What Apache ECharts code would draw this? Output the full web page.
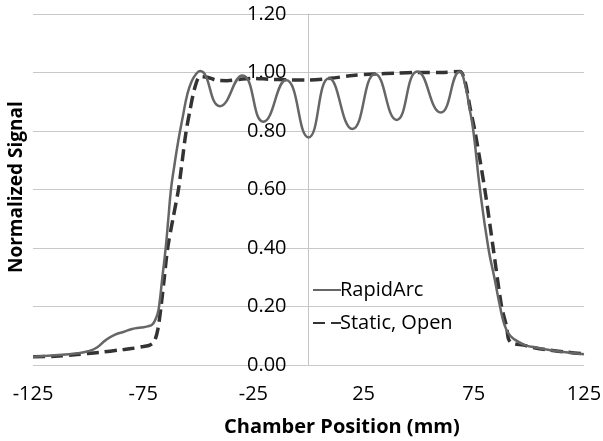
<!DOCTYPE html>
<html>
<head>
<meta charset="utf-8">
<script src="https://cdn.jsdelivr.net/npm/echarts@6/dist/echarts.min.js"></script>
<style>html,body{margin:0;padding:0;background:#fff;}#c{width:603px;height:441px;}</style>
</head>
<body>
<div id="c"></div>
<script>
const seriesNames = ['RapidArc', 'Static, Open'];
const xTicks = [-125, -75, -25, 25, 75, 125];
const yTicks = [0, 0.2, 0.4, 0.6, 0.8, 1.0, 1.2];

const rapidX = [-125,-115,-105,-100,-96,-92,-88,-84,-80,-76,-73,-71,-69.8,-68.5,-67.8,-66.3,-64.8,-63.6,-62.4,-61,-59,-57,-55,-53,-51,-49.2,-40.2,-30,-20.5,-10.2,0,9.3,19.9,30.2,40,49.4,60,68.7,71,73,74.8,77.8,81.6,84.3,86.9,88.8,90.7,93,98.2,103,108,114,120,125];
const rapidY = [0.028,0.033,0.040,0.047,0.060,0.085,0.103,0.113,0.123,0.128,0.132,0.138,0.150,0.175,0.200,0.300,0.400,0.500,0.600,0.675,0.770,0.850,0.925,0.970,0.995,1.005,0.885,0.990,0.832,0.974,0.778,0.980,0.807,0.995,0.838,1.003,0.863,1.003,0.960,0.880,0.800,0.600,0.400,0.300,0.200,0.140,0.108,0.090,0.068,0.060,0.053,0.046,0.041,0.037];

const staticX = [-125,-115,-105,-95,-85,-79.6,-75,-72,-70,-68.4,-66.9,-65.4,-63.9,-61.5,-59,-57.8,-55.7,-53.8,-51.5,-49.2,-45.5,-42,-37,-30,-25,-18,-10,0,10,20,30,40,50,60,68.7,71,73.3,75.5,80,83.8,87.6,89.9,90.7,92.2,97.5,103,109.6,117,125];
const staticY = [0.028,0.030,0.036,0.043,0.052,0.057,0.063,0.068,0.080,0.120,0.200,0.300,0.400,0.500,0.600,0.667,0.790,0.870,0.950,0.986,0.983,0.974,0.972,0.978,0.980,0.977,0.975,0.974,0.980,0.990,0.995,0.998,1.000,1.000,1.003,0.970,0.880,0.800,0.600,0.400,0.200,0.130,0.090,0.075,0.068,0.058,0.051,0.044,0.038];

const pairs = (xs, ys) => xs.map((x, i) => [x, ys[i]]);
const FONT = '"Open Sans", sans-serif';
const GRID_L = 33, GRID_R = 19;
const plotW = 603 - GRID_L - GRID_R;
const xMin = xTicks[0], xMax = xTicks[xTicks.length - 1];
// shift the y axis from the grid's left edge to x = 0
const yAxisOffset = -plotW * (0 - xMin) / (xMax - xMin);

const chart = echarts.init(document.getElementById('c'), null, {renderer: 'canvas'});
chart.setOption({
  animation: false,
  backgroundColor: '#ffffff',
  grid: {left: GRID_L, right: GRID_R, top: 14, bottom: 76, containLabel: false, outerBoundsMode: 'none'},
  xAxis: {
    type: 'value', min: xMin, max: xMax, interval: 50,
    axisLine: {show: false}, axisTick: {show: false}, splitLine: {show: false},
    axisLabel: {fontFamily: FONT, fontSize: 20, color: '#000', margin: 19}
  },
  yAxis: {
    type: 'value', min: yTicks[0], max: yTicks[yTicks.length - 1], interval: 0.2,
    position: 'left', offset: yAxisOffset,
    axisLine: {show: true, onZero: false, lineStyle: {color: '#c4c4c4', width: 1}},
    axisTick: {show: false},
    splitLine: {show: true, lineStyle: {color: '#c8c8c8', width: 1}},
    axisLabel: {fontFamily: FONT, fontSize: 20, color: '#000', margin: 22,
      formatter: v => v.toFixed(2)}
  },
  legend: {
    orient: 'vertical', left: 307, top: 275, itemGap: 13,
    itemWidth: 28, itemHeight: 14,
    itemStyle: {opacity: 0},
    textStyle: {fontFamily: FONT, fontSize: 20, color: '#000', padding: [0,0,0,-6]},
    data: seriesNames
  },
  graphic: [
    {type: 'text', top: 417, left: 224, style: {text: 'Chamber Position (mm)', font: 'bold 20px ' + FONT, fill: '#000'}},
    {type: 'text', rotation: Math.PI / 2, x: 7, y: 273, style: {text: 'Normalized Signal', font: 'bold 19px ' + FONT, fill: '#000'}}
  ],
  series: [
    {name: seriesNames[0], type: 'line', data: pairs(rapidX, rapidY), smooth: 0.5, symbol: 'none',
      lineStyle: {color: '#666666', width: 2.5}, itemStyle: {color: '#666666'}, z: 3},
    {name: seriesNames[1], type: 'line', data: pairs(staticX, staticY), smooth: 0.3, symbol: 'none',
      lineStyle: {color: '#333333', width: 3.5, type: [12, 6]}, itemStyle: {color: '#333333'}, z: 2}
  ]
});
</script>
</body>
</html>
